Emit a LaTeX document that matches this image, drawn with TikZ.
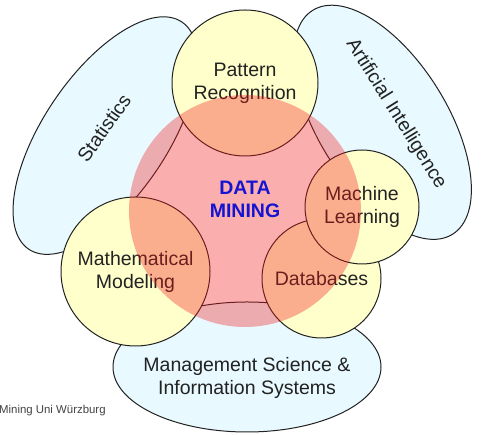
\documentclass[tikz,border=0pt]{standalone}
\usepackage{fontspec}
\setmainfont{Liberation Sans}
\usetikzlibrary{shapes.geometric}
\definecolor{fieldblue}{RGB}{232,250,255}
\definecolor{areayellow}{RGB}{255,255,204}
\definecolor{minered}{RGB}{245,25,25}
\definecolor{inkgray}{RGB}{34,34,34}
\definecolor{mineblue}{RGB}{20,20,210}
\newcommand\dmlabel{\fontsize{19.5}{23}\selectfont}
\begin{document}
\begin{tikzpicture}[x=1pt,y=1pt,
  field/.style={ellipse, draw=inkgray, line width=1pt, fill=fieldblue, inner sep=0},
  fieldtext/.style={text=inkgray, font=\dmlabel, align=center, inner sep=0},
  area/.style={circle, draw=inkgray, line width=1pt, fill=areayellow, inner sep=0,
    align=center, text=inkgray, font=\dmlabel},
  core/.style={circle, fill=minered, fill opacity=0.35, inner sep=0},
  coretext/.style={text=mineblue, font=\dmlabel\bfseries, align=center}]
\useasboundingbox (0,0) rectangle (488,435);
\fill[white] (0,0) rectangle (488,435);

% neighbouring disciplines
\node[field, minimum width=274, minimum height=124, rotate=56] (stat) at (105.3,299.4) {};
\node[field, minimum width=264, minimum height=129, rotate=-58] (ai) at (382.6,312.7) {};
\node[field, minimum width=268, minimum height=130] (mgmt) at (247,68) {};
\node[fieldtext, rotate=55] (statlbl) at (104,307) {Statistics};
\node[fieldtext, rotate=-58] (ailbl) at (396,321) {Artificial Intelligence};
\node[fieldtext] (mgmtlbl) at (247,57) {Management Science \&\\Information Systems};

% overlapping fields
\node[area, minimum size=149] (mm) at (135.5,163.5) {Mathematical\\Modeling};
\node[area, minimum size=146] (pr) at (245,352) {Pattern\\Recognition};
\node[area, minimum size=119] (db) at (321.5,156.5) {Databases};
\node[area, minimum size=114] (ml) at (362,228) {Machine\\Learning};

% data mining core, laid over everything
\node[core, minimum size=232] (dm) at (245,224) {};
\node[coretext] (dmlbl) at (245,236) {DATA\\MINING};

\node[anchor=base west, inner sep=0, text=inkgray!85, font=\fontsize{11.4}{13}\selectfont] (credit) at (-1,21) {Mining Uni Würzburg};
\end{tikzpicture}
\end{document}
